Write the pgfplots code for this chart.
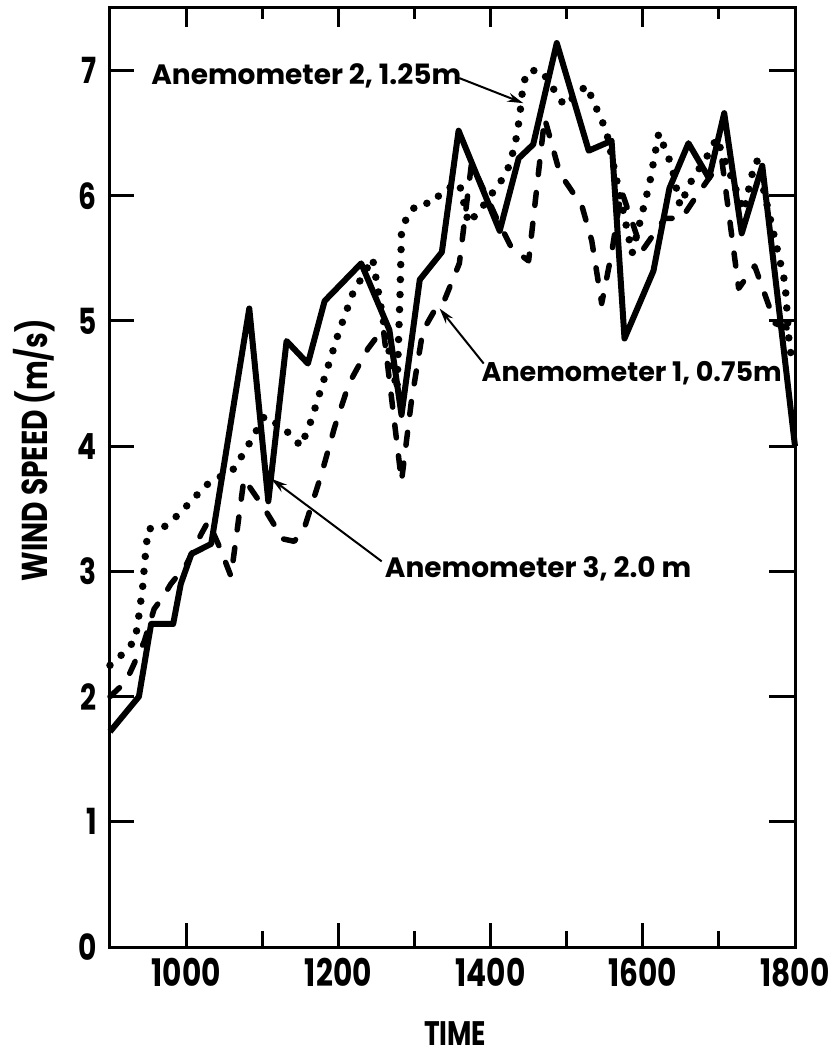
\documentclass[border=0pt]{standalone}
\usepackage{fontspec}
\setmainfont{Poppins}
\newfontfamily\narrowfont{Poppins}[FakeStretch=0.78]
\usepackage{pgfplots}
\pgfplotsset{compat=1.18}
\usetikzlibrary{arrows.meta}

\pgfplotstableread{
x y
900 1.72
938 2.0
954 2.58
983 2.58
993 2.9
1007 3.14
1033 3.22
1083 5.1
1108 3.56
1132 4.84
1160 4.66
1182 5.16
1230 5.46
1267 4.93
1283 4.25
1307 5.33
1336 5.55
1358 6.52
1412 5.72
1437 6.3
1456 6.41
1487 7.22
1529 6.36
1559 6.44
1576 4.86
1614 5.4
1635 6.06
1660 6.42
1687 6.14
1707 6.66
1730 5.7
1757 6.24
1800 4.0
}\anemthree

\pgfplotstableread{
x y
900 2.0
921 2.12
945 2.44
958 2.7
970 2.8
980 2.9
1000 3.05
1020 3.3
1029 3.4
1045 3.18
1059 2.96
1076 3.74
1103 3.5
1127 3.26
1142 3.24
1155 3.34
1178 3.78
1195 4.15
1214 4.5
1239 4.78
1259 4.94
1283 3.72
1296 4.36
1311 4.92
1326 5.08
1339 5.16
1359 5.46
1375 6.26
1408 5.82
1428 5.58
1450 5.48
1471 6.62
1491 6.18
1520 5.92
1533 5.64
1546 5.14
1559 5.54
1572 6.04
1599 5.56
1629 5.82
1651 5.82
1673 6.02
1687 6.14
1704 6.28
1726 5.26
1747 5.44
1774 4.98
1800 4.92
}\anemone

\pgfplotstableread{
x y
900 2.25
910 2.3
933 2.45
938 2.65
943 2.88
946 3.1
950 3.34
970 3.35
984 3.42
1010 3.58
1024 3.68
1040 3.74
1063 3.82
1081 4.0
1103 4.24
1129 4.14
1151 4.0
1164 4.2
1200 4.9
1219 5.22
1245 5.5
1262 4.9
1277 4.45
1281 5.2
1283 5.72
1292 5.86
1306 5.94
1324 5.94
1337 6.04
1359 6.1
1371 5.78
1388 5.9
1421 6.18
1432 6.4
1438 6.62
1443 6.9
1450 7.0
1467 7.0
1497 6.72
1526 6.88
1552 6.52
1586 5.54
1609 6.1
1621 6.5
1638 6.24
1649 5.92
1662 6.1
1687 6.34
1697 6.46
1733 5.88
1743 6.16
1750 6.28
1787 5.3
1793 4.76
1800 4.7
}\anemtwo

\begin{document}
\begin{tikzpicture}
\begin{axis}[
  scale only axis, width=685pt, height=939pt,
  xmin=900, xmax=1800, ymin=0, ymax=7.5,
  xtick={1000,1200,1400,1600,1800},
  ytick={0,1,2,3,4,5,6,7},
  tick align=inside,
  major tick length=0pt,
  axis line style={line width=3pt, black},
  /pgf/number format/assume math mode=true,
  /pgf/number format/1000 sep={},
  xticklabel style={font=\narrowfont\bfseries\fontsize{38}{40}\selectfont, inner sep=0pt, yshift=-11pt},
  yticklabel style={font=\narrowfont\bfseries\fontsize{36}{40}\selectfont, inner sep=0pt, xshift=-13pt},
  xlabel={TIME},
  ylabel={WIND SPEED (m/s)},
  xlabel style={font=\narrowfont\bfseries\fontsize{34}{36}\selectfont, at={(axis description cs:0.504,0)}, anchor=north, yshift=-74pt, inner sep=0pt},
  ylabel style={font=\narrowfont\bfseries\fontsize{36}{40}\selectfont, at={(axis description cs:-0.111,0.529)}, anchor=center, inner sep=0pt},
  clip=false,
]
% y tick marks (inward, left and right)
\draw[line width=3pt] (axis cs:900,1) -- (axis cs:931.5,1);
\draw[line width=3pt] (axis cs:900,2) -- (axis cs:931.5,2);
\draw[line width=3pt] (axis cs:900,3) -- (axis cs:931.5,3);
\draw[line width=3pt] (axis cs:900,4) -- (axis cs:931.5,4);
\draw[line width=3pt] (axis cs:900,5) -- (axis cs:931.5,5);
\draw[line width=3pt] (axis cs:900,6) -- (axis cs:931.5,6);
\draw[line width=3pt] (axis cs:900,7) -- (axis cs:931.5,7);
\draw[line width=3pt] (axis cs:1800,1) -- (axis cs:1766,1);
\draw[line width=3pt] (axis cs:1800,2) -- (axis cs:1766,2);
\draw[line width=3pt] (axis cs:1800,3) -- (axis cs:1766,3);
\draw[line width=3pt] (axis cs:1800,4) -- (axis cs:1766,4);
\draw[line width=3pt] (axis cs:1800,5) -- (axis cs:1766,5);
\draw[line width=3pt] (axis cs:1800,6) -- (axis cs:1766,6);
\draw[line width=3pt] (axis cs:1800,7) -- (axis cs:1766,7);
% x tick marks (inward, bottom and top)
\draw[line width=3pt] (rel axis cs:0.1111,0) -- (rel axis cs:0.1111,0.0256);
\draw[line width=3pt] (rel axis cs:0.3333,0) -- (rel axis cs:0.3333,0.0256);
\draw[line width=3pt] (rel axis cs:0.5556,0) -- (rel axis cs:0.5556,0.0256);
\draw[line width=3pt] (rel axis cs:0.7778,0) -- (rel axis cs:0.7778,0.0256);
\draw[line width=3pt] (rel axis cs:0.2222,0) -- (rel axis cs:0.2222,0.017);
\draw[line width=3pt] (rel axis cs:0.4444,0) -- (rel axis cs:0.4444,0.017);
\draw[line width=3pt] (rel axis cs:0.6667,0) -- (rel axis cs:0.6667,0.017);
\draw[line width=3pt] (rel axis cs:0.8889,0) -- (rel axis cs:0.8889,0.017);
\draw[line width=3pt] (rel axis cs:0.1111,1) -- (rel axis cs:0.1111,0.98);
\draw[line width=3pt] (rel axis cs:0.3333,1) -- (rel axis cs:0.3333,0.98);
\draw[line width=3pt] (rel axis cs:0.5556,1) -- (rel axis cs:0.5556,0.98);
\draw[line width=3pt] (rel axis cs:0.7778,1) -- (rel axis cs:0.7778,0.98);
\draw[line width=3pt] (rel axis cs:0.2222,1) -- (rel axis cs:0.2222,0.988);
\draw[line width=3pt] (rel axis cs:0.4444,1) -- (rel axis cs:0.4444,0.988);
\draw[line width=3pt] (rel axis cs:0.6667,1) -- (rel axis cs:0.6667,0.988);
\draw[line width=3pt] (rel axis cs:0.8889,1) -- (rel axis cs:0.8889,0.988);

\addplot[black, line width=6pt, line join=round] table[x=x,y=y] {\anemthree};
\addplot[black, line width=5.5pt, line cap=round, line join=round, dash pattern=on 13pt off 18pt] table[x=x,y=y] {\anemone};
\addplot[black, line width=7.5pt, line cap=round, dash pattern=on 0pt off 15pt] table[x=x,y=y] {\anemtwo};

\node[anchor=west, inner sep=0pt, font=\bfseries\fontsize{28}{30}\selectfont] at (axis cs:954,6.96) {Anemometer 2, 1.25m};
\draw[line width=2pt, -{Stealth[length=16pt,width=9pt]}] (axis cs:1359,6.94) -- (axis cs:1443,6.74);

\node[anchor=west, inner sep=0pt, font=\bfseries\fontsize{27}{30}\selectfont] at (axis cs:1388,4.58) {Anemometer 1, 0.75m};
\draw[line width=2pt, -{Stealth[length=16pt,width=9pt]}] (axis cs:1391,4.66) -- (axis cs:1333,5.1);

\node[anchor=west, inner sep=0pt, font=\bfseries\fontsize{28}{30}\selectfont] at (axis cs:1261,3.02) {Anemometer 3, 2.0 m};
\draw[line width=2pt, -{Stealth[length=16pt,width=9pt]}] (axis cs:1257,3.08) -- (axis cs:1112,3.74);

\coordinate (bl) at (rel axis cs:0,0);
\coordinate (tr) at (rel axis cs:1,1);
\end{axis}
\pgfresetboundingbox
\path[use as bounding box] ([xshift=-110pt,yshift=-108pt]bl) rectangle ([xshift=43pt,yshift=8pt]tr);
\end{tikzpicture}
\end{document}
